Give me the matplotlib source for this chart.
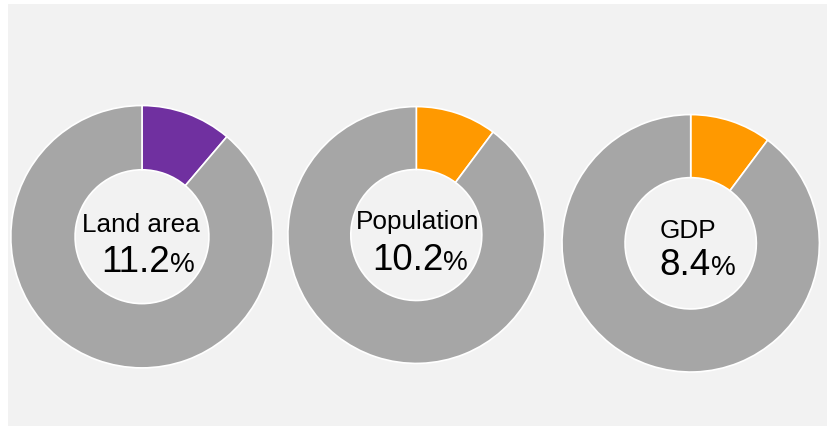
import matplotlib
matplotlib.use("Agg")
import matplotlib.pyplot as plt
from matplotlib.patches import Rectangle

plt.rcParams['font.family'] = ['Liberation Sans', 'DejaVu Sans']

labels = ["Land area", "Population", "GDP"]
shares = [11.2, 10.2, 8.4]            # values printed in the centre
drawn_shares = [11.2, 10.2, 10.2]     # slice sizes as drawn in the picture
highlight_colors = ["#7030a0", "#ff9900", "#ff9900"]
rest_color = "#a6a6a6"

W, H = 831, 427
fig = plt.figure(figsize=(W / 100, H / 100), dpi=100)
fig.patch.set_facecolor("white")
fig.add_artist(Rectangle((8 / W, 0), (827 - 8) / W, (H - 5) / H,
                         transform=fig.transFigure, facecolor="#f2f2f2",
                         edgecolor="none", zorder=0))

# layout (pixels, y from top)
centers = [(142, 237.7), (416.3, 236), (690.7, 244.3)]
radii = [132.5, 129.7, 130]
label_pos = [(141.3, 231.7), (417.3, 229.3), (688, 237.7)]
num_pos = [(170, 271.7), (443.5, 270), (711, 275)]

for i in range(3):
    cx, cy = centers[i]
    R = radii[i]
    ax = fig.add_axes([(cx - R) / W, (H - cy - R) / H, 2 * R / W, 2 * R / H])
    ax.set_facecolor("none")
    ax.pie([drawn_shares[i], 100 - drawn_shares[i]],
           colors=[highlight_colors[i], rest_color],
           startangle=90, counterclock=False, radius=1.0,
           wedgeprops=dict(width=0.49, edgecolor="white", linewidth=1.2))
    ax.set_xlim(-1.01, 1.01)
    ax.set_ylim(-1.01, 1.01)
    ax.set_aspect("equal")
    ax.axis("off")

    lx, ly = label_pos[i]
    fig.text(lx / W, (H - ly) / H, labels[i], ha="center", va="baseline",
             fontsize=18.8, color="black")
    nx, ny = num_pos[i]
    fig.text(nx / W, (H - ny) / H, f"{shares[i]:.1f}", ha="right", va="baseline",
             fontsize=26.5, color="black")
    fig.text(nx / W, (H - ny) / H, "%", ha="left", va="baseline",
             fontsize=20, color="black")

fig.savefig("out.png", dpi=100, facecolor=fig.get_facecolor())
